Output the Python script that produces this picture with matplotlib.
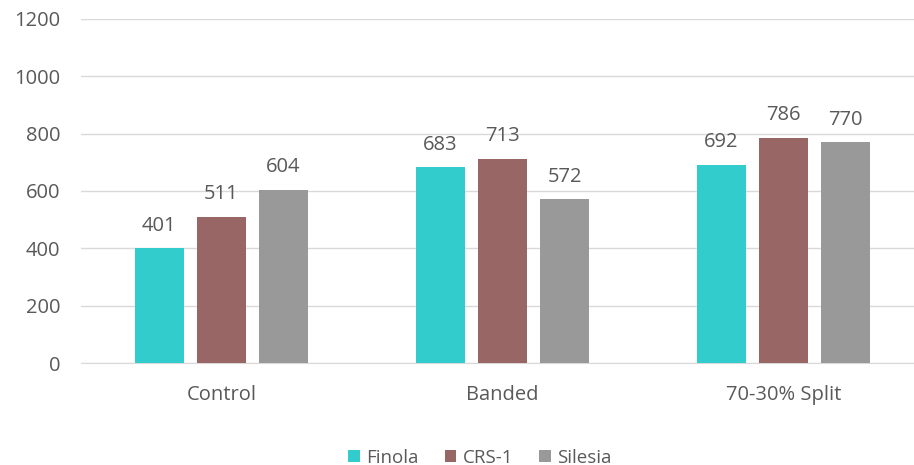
import matplotlib
matplotlib.use("Agg")
import matplotlib.pyplot as plt
import numpy as np

categories = ["Control", "Banded", "70-30% Split"]
series_names = ["Finola", "CRS-1", "Silesia"]
finola = [401, 683, 692]
crs1 = [511, 713, 786]
silesia = [604, 572, 770]
colors = ["#33CCCC", "#996666", "#999999"]
yticks = [0, 200, 400, 600, 800, 1000, 1200]

plt.rcParams['font.family'] = ['Open Sans', 'DejaVu Sans']
txt = "#595959"

fig = plt.figure(figsize=(9.14, 4.65), dpi=100)
W, H = 914, 465
ax = fig.add_axes([81 / W, 102 / H, (914 - 81) / W, 344 / H])

x = np.arange(len(categories))
bw = 0.175
off = 0.221
for i, (vals, name, c) in enumerate(zip([finola, crs1, silesia], series_names, colors)):
    pos = x + (i - 1) * off
    ax.bar(pos, vals, width=bw, color=c, label=name, zorder=3)
    for p, v in zip(pos, vals):
        ax.annotate(str(v), (p, v), xytext=(0, 9), textcoords="offset points",
                    ha="center", va="bottom", fontsize=14.5, color=txt)

ax.set_xlim(-0.5, 2.465)
ax.set_ylim(0, 1200)
ax.set_yticks(yticks)
ax.set_xticks(x)
ax.set_xticklabels(categories)
ax.tick_params(axis="both", length=0, labelsize=14.5, labelcolor=txt)
ax.tick_params(axis="x", pad=16)
ax.tick_params(axis="y", pad=15)
ax.grid(axis="y", color="#D9D9D9", linewidth=1, zorder=0)
for s in ["top", "right", "left"]:
    ax.spines[s].set_visible(False)
ax.spines["bottom"].set_color("#D9D9D9")

leg = fig.legend(loc="lower center", bbox_to_anchor=(0.525, -0.04), ncol=3, frameon=False,
                 fontsize=13.5, handlelength=0.6, handleheight=0.6, columnspacing=1.4,
                 handletextpad=0.35, labelcolor=txt)

fig.savefig("out.png", dpi=100)
